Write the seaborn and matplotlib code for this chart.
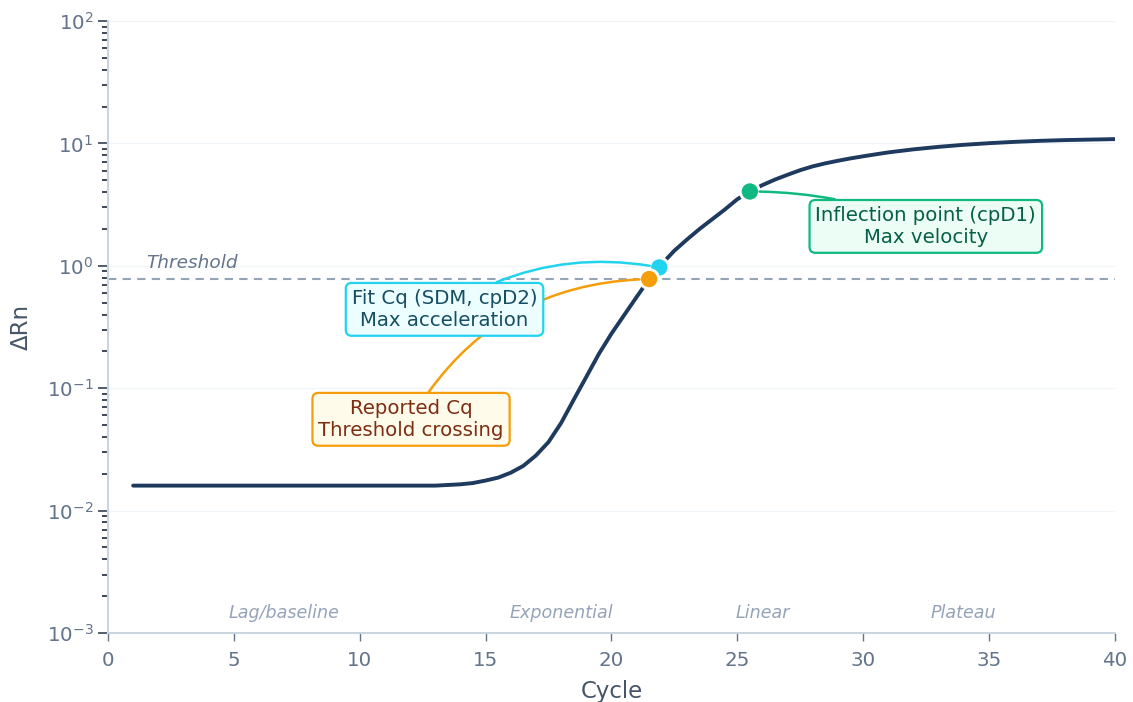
import numpy as np
import pandas as pd
import matplotlib
matplotlib.use("Agg")
import matplotlib.pyplot as plt
from matplotlib.ticker import LogLocator, NullFormatter
import seaborn as sns

# Amplification curve (delta Rn per cycle)
cycles = [1, 2, 3, 4, 5, 6, 7, 8, 9, 10, 11, 12, 13, 14, 14.5, 15, 15.5, 16, 16.5,
          17, 17.5, 18, 18.5, 19, 19.5, 20, 20.5, 21, 21.5, 22, 22.5, 23, 23.5,
          24, 24.5, 25, 25.5, 26, 26.5, 27, 27.5, 28, 28.5, 29, 29.5, 30, 30.5,
          31, 32, 33, 34, 35, 36, 37, 38, 39, 40]
delta_rn = [0.016, 0.016, 0.016, 0.016, 0.016, 0.016, 0.016, 0.016, 0.016, 0.016,
            0.016, 0.016, 0.016, 0.0164, 0.0168, 0.0176, 0.0186, 0.0204, 0.0232,
            0.0282, 0.0363, 0.0519, 0.0804, 0.1236, 0.1905, 0.279, 0.394, 0.556,
            0.78, 1.035, 1.33, 1.64, 2.0, 2.4, 2.88, 3.5, 4.05, 4.57, 5.07, 5.55,
            6.05, 6.5, 6.88, 7.22, 7.55, 7.85, 8.15, 8.45, 8.95, 9.38, 9.75, 10.05,
            10.3, 10.5, 10.65, 10.75, 10.85]

threshold = 0.78

# Key points on the curve
point_names = ["cpD2", "Cq", "cpD1"]
point_cycles = [21.9, 21.5, 25.5]
point_values = [0.97, 0.78, 4.05]
point_colors = ["#22d3ee", "#f59e0b", "#10b981"]

# Annotation boxes: text, box centre (cycle, delta Rn), face, edge, text colour,
# curvature and drawing order
ann_texts = ["Fit Cq (SDM, cpD2)\nMax acceleration",
             "Reported Cq\nThreshold crossing",
             "Inflection point (cpD1)\nMax velocity"]
ann_x = [13.37, 12.04, 32.49]
ann_y = [0.441, 0.0557, 2.10]
ann_face = ["#ecfeff", "#fffbeb", "#ecfdf5"]
ann_edge = ["#22d3ee", "#f59e0b", "#10b981"]
ann_textc = ["#164e63", "#7c2d12", "#065f46"]
ann_rad = [-0.2, -0.28, 0.1]
ann_z = [7, 6, 6]

# Amplification phases
phase_names = ["Lag/baseline", "Exponential", "Linear", "Plateau"]
phase_x = [7.0, 18.0, 26.0, 34.0]

sns.set_theme(style="white")
plt.rcParams["font.family"] = ["DejaVu Sans"]

fig = plt.figure(figsize=(11.33, 7.02), dpi=100)
ax = fig.add_axes([0.0953, 0.0983, 0.8887, 0.8717])

curve = pd.DataFrame({"cycle": cycles, "drn": delta_rn})
sns.lineplot(data=curve, x="cycle", y="drn", ax=ax, color="#1e3a5f",
             linewidth=2.8, zorder=3)

ax.axhline(threshold, color="#94a3b8", linestyle=(0, (4, 3)), linewidth=1.5, zorder=2)
ax.text(1.5, threshold * 1.14, "Threshold", style="italic", color="#64748b",
        fontsize=13.3, ha="left", va="bottom")

pts = pd.DataFrame({"name": point_names, "cycle": point_cycles, "drn": point_values})
sns.scatterplot(data=pts, x="cycle", y="drn", hue="name", palette=point_colors,
                s=190, edgecolor="white", linewidth=2, legend=False, ax=ax, zorder=5)

for i in range(3):
    ax.annotate(ann_texts[i], xy=(point_cycles[i], point_values[i]),
                xytext=(ann_x[i], ann_y[i]), ha="center", va="center",
                fontsize=14.2, color=ann_textc[i], zorder=ann_z[i],
                bbox=dict(boxstyle="round,pad=0.3", fc=ann_face[i],
                          ec=ann_edge[i], lw=1.6),
                arrowprops=dict(arrowstyle="-", color=ann_edge[i], lw=1.8,
                                connectionstyle=f"arc3,rad={ann_rad[i]}",
                                shrinkA=0, shrinkB=7))

for name, x in zip(phase_names, phase_x):
    ax.text(x, 0.00146, name, style="italic", color="#94a3b8", fontsize=12.6,
            ha="center", va="center")

ax.set_yscale("log")
ax.set_xlim(0, 40)
ax.set_ylim(1e-3, 1e2)
ax.set_xticks(range(0, 41, 5))
ax.yaxis.set_major_locator(LogLocator(base=10, numticks=10))
ax.yaxis.set_minor_locator(LogLocator(base=10, subs=np.arange(2, 10), numticks=10))
ax.yaxis.set_minor_formatter(NullFormatter())

ax.grid(axis="y", which="major", color="#f1f5f9", linewidth=1)
ax.grid(axis="x", visible=False)
for side in ["top", "right"]:
    ax.spines[side].set_visible(False)
for side in ["left", "bottom"]:
    ax.spines[side].set_color("#cbd5e1")
    ax.spines[side].set_linewidth(1.5)

ax.tick_params(axis="x", which="major", length=6, width=1, color="#64748b",
               labelcolor="#64748b", labelsize=14.3, bottom=True, pad=7)
ax.tick_params(axis="y", which="major", length=7, width=1.2, color="#334155",
               labelcolor="#64748b", labelsize=14.3, left=True)
ax.tick_params(axis="y", which="minor", length=4, width=1.2, color="#1e293b", left=True)

ax.set_xlabel("Cycle", fontsize=16.5, color="#475569", labelpad=7)
ax.set_ylabel("ΔRn", fontsize=16.5, color="#475569", labelpad=10)

fig.savefig("out.png", dpi=100)
